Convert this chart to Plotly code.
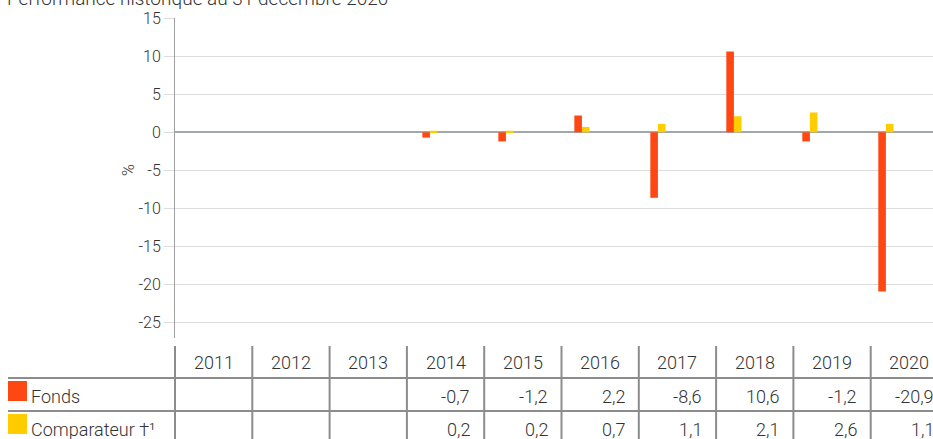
import plotly.graph_objects as go

years = ["2011", "2012", "2013", "2014", "2015", "2016", "2017", "2018", "2019", "2020"]
fonds = [None, None, None, -0.7, -1.2, 2.2, -8.6, 10.6, -1.2, -20.9]
comparateur = [None, None, None, 0.2, 0.2, 0.7, 1.1, 2.1, 2.6, 1.1]
y_ticks = [15, 10, 5, 0, -5, -10, -15, -20, -25]
series_names = ["Fonds", "Comparateur †¹"]
title_text = "Performance historique au 31 décembre 2020"

RED = "#FF4713"
YELLOW = "#FFCC00"
TXT = "#333333"
FONT = "Roboto"
WEIGHT = 300

W, H = 933, 439
ML, MR, MT, MB = 175, 0, 18, 101
PW = W - ML - MR
PH = H - MT - MB
COLW = 77.3  # table column width in px


def px_x(p):
    return (p - ML) / PW


def px_y(p):
    return (H - MB - p) / PH


def fmt(v):
    return "" if v is None else f"{v:.1f}".replace(".", ",")


def f(size):
    return dict(family=FONT, size=size, color=TXT, weight=WEIGHT)


fig = go.Figure()
fig.add_trace(go.Bar(x=years, y=fonds, name=series_names[0], marker_color=RED,
                     marker_line_width=0, showlegend=False))
fig.add_trace(go.Bar(x=years, y=comparateur, name=series_names[1], marker_color=YELLOW,
                     marker_line_width=0, showlegend=False))
# invisible helper trace that establishes the table axis
fig.add_trace(go.Scatter(x=list(range(len(years))), y=[None] * len(years), xaxis="x2",
                         mode="markers", showlegend=False, hoverinfo="skip"))

shapes = []
annotations = []

# table vertical lines
for i in range(len(years) + 1):
    xp = px_x(ML + i * COLW)
    shapes.append(dict(type="line", xref="paper", yref="paper", x0=xp, x1=xp,
                       y0=px_y(346), y1=px_y(445), line=dict(color="#8c8c8c", width=2)))
# table horizontal lines
for yp in (378, 411):
    shapes.append(dict(type="line", xref="paper", yref="paper", x0=px_x(8), x1=1.02,
                       y0=px_y(yp), y1=px_y(yp), line=dict(color="#8c8c8c", width=2)))
# legend squares
for (y0, y1), col in zip(((381, 401), (414, 434)), (RED, YELLOW)):
    shapes.append(dict(type="rect", xref="paper", yref="paper", x0=px_x(8), x1=px_x(27),
                       y0=px_y(y1), y1=px_y(y0), fillcolor=col, line=dict(width=0)))

# header
for i, yr in enumerate(years):
    annotations.append(dict(x=i, xref="x2", y=px_y(362), yref="paper", text=yr,
                            showarrow=False, xanchor="center", yanchor="middle", font=f(18)))
# rows (right aligned inside each column)
for vals, yc in ((fonds, 396), (comparateur, 429)):
    for i, v in enumerate(vals):
        if v is None:
            continue
        annotations.append(dict(x=i, xref="x2", y=px_y(yc), yref="paper", text=fmt(v),
                                showarrow=False, xanchor="right", yanchor="middle",
                                xshift=COLW / 2 - 12, font=f(18)))
# row labels
for name, yc in zip(series_names, (396, 429)):
    annotations.append(dict(x=px_x(29), xref="paper", y=px_y(yc), yref="paper", text=name,
                            showarrow=False, xanchor="left", yanchor="middle", font=f(18)))
# y axis label
annotations.append(dict(x=px_x(128), xref="paper", y=px_y(170), yref="paper", text="%",
                        textangle=-90, showarrow=False, xanchor="center", yanchor="middle",
                        font=f(16)))
# title (partially cut at top)
annotations.append(dict(x=px_x(5), xref="paper", y=px_y(-2), yref="paper", text=title_text,
                        showarrow=False, xanchor="left", yanchor="middle", font=f(19)))

fig.update_layout(
    width=W, height=H,
    margin=dict(l=ML, r=MR, t=MT, b=MB, pad=0),
    paper_bgcolor="white", plot_bgcolor="white",
    barmode="group", bargap=0.8, bargroupgap=0,
    shapes=shapes, annotations=annotations,
    xaxis=dict(type="category", categoryorder="array", categoryarray=years,
               range=[-0.355, 9.62], showticklabels=False, showgrid=False,
               zeroline=False, showline=False, ticks=""),
    xaxis2=dict(overlaying="x", range=[-0.5, -0.5 + PW / COLW], visible=False,
                showgrid=False, zeroline=False),
    yaxis=dict(range=[-27, 15], tickvals=y_ticks, ticktext=[str(t) for t in y_ticks],
               showgrid=True, gridcolor="#dcdcdc", gridwidth=1,
               zeroline=True, zerolinecolor="#a2a9ad", zerolinewidth=1.5,
               showline=True, linecolor="#a0a0a0", linewidth=1,
               ticks="outside", ticklen=10, tickcolor="#dcdcdc",
               tickfont=f(16)),
    font=dict(family=FONT, color=TXT),
)

fig.write_html(
    "out.html",
    config={"displayModeBar": False},
    post_script="document.body.style.margin='0';document.body.style.overflow='hidden';",
)
